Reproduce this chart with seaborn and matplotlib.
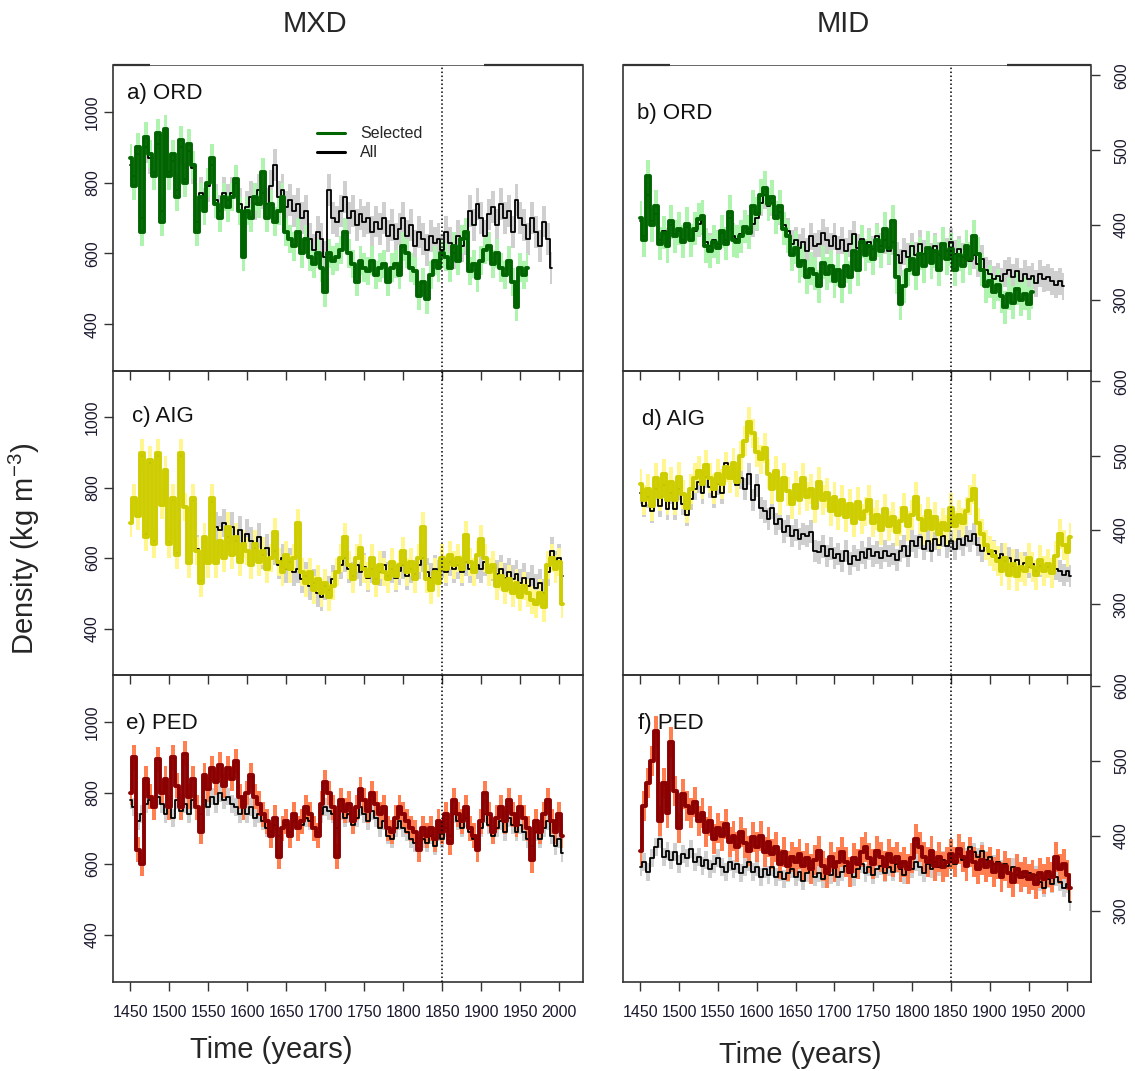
import numpy as np
import matplotlib
matplotlib.use("Agg")
import matplotlib.pyplot as plt
import seaborn as sns
from matplotlib.lines import Line2D

# ---------------- data (5-year resolution) ----------------
START_YEAR = 1450
STEP = 5

# ORD, MXD (kg m-3)
ord_mxd_sel = [
    870, 790, 900, 660, 930, 880, 820, 940, 690, 950,
    820, 880, 760, 920, 800, 910, 850, 660, 760, 720,
    800, 870, 740, 700, 760, 730, 760, 810, 720, 590,
    720, 700, 760, 740, 830, 700, 740, 690, 720, 760,
    660, 640, 620, 660, 600, 640, 590, 570, 600, 560,
    490, 600, 580, 590, 610, 660, 600, 570, 520, 580,
    560, 550, 580, 540, 560, 570, 520, 560, 570, 540,
    620, 600, 560, 550, 480, 520, 470, 540, 580, 560,
    600, 590, 560, 620, 580, 640, 660, 550, 570, 530,
    580, 610, 620, 570, 600, 560, 540, 580, 520, 450,
    560, 540, 560]
ord_mxd_all = [
    850, 820, 880, 700, 900, 870, 830, 910, 720, 920,
    830, 860, 780, 900, 810, 890, 840, 690, 770, 740,
    790, 850, 750, 720, 770, 750, 770, 800, 740, 650,
    730, 760, 740, 780, 770, 740, 790, 850, 760, 780,
    730, 750, 720, 740, 700, 720, 640, 610, 660, 640,
    590, 780, 700, 690, 720, 760, 700, 720, 680, 710,
    690, 700, 660, 690, 670, 700, 650, 680, 640, 670,
    700, 650, 680, 620, 660, 640, 610, 650, 630, 640,
    610, 660, 630, 600, 650, 620, 640, 720, 680, 740,
    700, 650, 710, 730, 680, 740, 700, 720, 660, 750,
    700, 680, 640, 700, 660, 620, 690, 640, 560]

# ORD, MID
ord_mid_sel = [
    410, 380, 465, 400, 425, 375, 390, 372, 405, 385,
    395, 378, 402, 380, 395, 408, 412, 372, 365, 378,
    370, 392, 375, 418, 380, 378, 385, 398, 390, 425,
    415, 440, 450, 428, 438, 410, 425, 395, 385, 360,
    370, 345, 352, 330, 342, 335, 318, 350, 335, 345,
    325, 340, 318, 345, 330, 365, 340, 378, 360, 372,
    355, 380, 365, 395, 370, 405, 330, 295, 318, 340,
    355, 335, 362, 345, 370, 350, 365, 340, 375, 355,
    368, 340, 360, 345, 372, 355, 385, 362, 340, 318,
    325, 310, 320, 305, 290, 308, 296, 315, 300, 308,
    295, 310]
ord_mid_all = [
    405, 385, 440, 405, 415, 380, 392, 378, 400, 388,
    392, 380, 398, 382, 392, 402, 405, 378, 372, 380,
    375, 390, 380, 410, 385, 382, 388, 396, 395, 402,
    410, 430, 440, 425, 430, 412, 418, 400, 392, 375,
    380, 370, 378, 365, 385, 372, 375, 390, 380, 372,
    385, 368, 380, 365, 375, 388, 370, 382, 362, 378,
    368, 385, 372, 380, 365, 378, 360, 350, 365, 358,
    372, 360, 375, 362, 370, 358, 372, 360, 375, 365,
    378, 362, 368, 358, 365, 352, 360, 348, 355, 340,
    335, 328, 332, 325, 335, 340, 330, 338, 325, 335,
    328, 332, 322, 335, 328, 330, 325, 320, 325, 318]

# AIG, MXD
aig_mxd_sel = [
    700, 770, 720, 900, 660, 880, 640, 900, 750, 850,
    640, 770, 610, 900, 745, 585, 770, 620, 530, 660,
    585, 770, 585, 650, 600, 690, 610, 660, 590, 640,
    620, 580, 640, 590, 620, 570, 600, 675, 590, 560,
    610, 570, 600, 700, 560, 530, 560, 510, 540, 500,
    530, 490, 520, 560, 600, 660, 580, 540, 600, 630,
    570, 550, 600, 530, 580, 560, 540, 590, 550, 580,
    620, 560, 590, 540, 600, 690, 540, 510, 560, 530,
    600, 570, 610, 580, 600, 570, 665, 590, 560, 610,
    655, 600, 560, 580, 520, 550, 510, 540, 500, 530,
    490, 520, 500, 480, 470, 500, 460, 580, 600, 570,
    590, 470]
aig_mxd_all = [
    700, 770, 720, 890, 670, 870, 650, 890, 750, 845,
    645, 765, 615, 890, 745, 590, 765, 625, 535, 655,
    590, 760, 690, 680, 700, 660, 690, 650, 680, 640,
    670, 650, 630, 660, 610, 630, 600, 620, 580, 600,
    570, 590, 560, 570, 540, 550, 520, 530, 500, 490,
    520, 510, 540, 560, 580, 600, 570, 550, 580, 560,
    575, 545, 570, 540, 560, 580, 550, 570, 545, 565,
    580, 550, 570, 555, 580, 600, 560, 545, 570, 555,
    585, 560, 590, 570, 580, 560, 590, 570, 560, 580,
    570, 590, 560, 575, 555, 570, 545, 560, 540, 555,
    530, 545, 520, 540, 515, 530, 500, 560, 620, 580,
    600, 550]

# AIG, MID
aig_mid_sel = [
    462, 440, 455, 432, 470, 445, 475, 440, 465, 440,
    472, 448, 430, 455, 470, 480, 462, 488, 470, 455,
    475, 462, 485, 470, 490, 465, 500, 520, 545, 530,
    505, 495, 510, 475, 455, 480, 440, 470, 452, 435,
    460, 440, 470, 445, 455, 430, 465, 440, 450, 425,
    445, 420, 440, 418, 435, 410, 438, 415, 425, 440,
    410, 420, 400, 428, 405, 418, 398, 412, 430, 405,
    420, 445, 415, 400, 425, 402, 418, 395, 410, 400,
    430, 405, 420, 410, 425, 440, 455, 410, 395, 380,
    372, 365, 358, 345, 362, 340, 355, 338, 350, 345,
    362, 350, 340, 360, 345, 355, 342, 365, 395, 380,
    370, 390]
aig_mid_all = [
    450, 432, 445, 425, 455, 432, 460, 428, 450, 428,
    455, 435, 420, 442, 455, 465, 450, 472, 458, 445,
    462, 450, 490, 470, 482, 460, 470, 455, 475, 440,
    460, 430, 425, 415, 430, 408, 415, 398, 405, 392,
    400, 388, 395, 392, 398, 372, 370, 378, 365, 375,
    362, 368, 358, 372, 355, 365, 360, 370, 362, 375,
    365, 370, 362, 372, 365, 368, 360, 372, 378, 365,
    385, 378, 390, 375, 385, 372, 388, 380, 392, 378,
    385, 375, 388, 380, 392, 385, 395, 380, 372, 378,
    368, 372, 362, 368, 358, 362, 352, 360, 348, 356,
    350, 355, 345, 352, 345, 350, 342, 348, 345, 340,
    345, 338]

# PED, MXD
ped_mxd_sel = [
    800, 900, 640, 600, 840, 790, 760, 895, 800, 840,
    760, 900, 820, 760, 910, 790, 840, 760, 690, 850,
    810, 870, 830, 880, 820, 870, 840, 890, 790, 760,
    800, 850, 790, 770, 740, 720, 680, 730, 620, 700,
    720, 680, 740, 700, 720, 760, 740, 700, 680, 770,
    830, 800, 760, 620, 780, 750, 770, 720, 760, 810,
    780, 750, 800, 770, 740, 760, 700, 690, 730, 760,
    740, 720, 700, 690, 640, 700, 680, 700, 670, 720,
    690, 740, 660, 780, 740, 720, 760, 700, 680, 640,
    720, 800, 740, 690, 730, 760, 720, 780, 740, 710,
    760, 730, 700, 610, 720, 690, 740, 780, 720, 690,
    740, 680]
ped_mxd_all = [
    780, 760, 720, 740, 770, 780, 760, 790, 770, 740,
    760, 730, 780, 750, 770, 740, 780, 760, 740, 780,
    760, 790, 770, 800, 780, 790, 770, 760, 740, 760,
    740, 760, 730, 740, 720, 700, 690, 710, 680, 700,
    710, 690, 720, 700, 710, 730, 720, 700, 690, 740,
    760, 750, 740, 700, 750, 730, 740, 710, 730, 760,
    740, 720, 750, 730, 700, 720, 680, 670, 700, 720,
    700, 690, 670, 660, 640, 670, 660, 680, 650, 690,
    670, 700, 680, 740, 720, 700, 730, 690, 670, 660,
    700, 740, 710, 680, 700, 720, 690, 730, 710, 690,
    710, 690, 670, 650, 690, 670, 700, 720, 680, 650,
    670, 630]

# PED, MID
ped_mid_sel = [
    380, 440, 470, 500, 540, 420, 470, 430, 525, 460,
    410, 455, 440, 430, 445, 420, 430, 405, 420, 395,
    410, 400, 415, 392, 400, 385, 405, 390, 380, 398,
    385, 400, 378, 392, 375, 385, 362, 378, 360, 372,
    365, 375, 360, 370, 355, 368, 380, 360, 350, 372,
    358, 365, 378, 365, 352, 370, 362, 378, 385, 370,
    362, 380, 372, 360, 375, 365, 372, 358, 365, 355,
    370, 395, 385, 372, 365, 380, 360, 372, 358, 365,
    375, 365, 382, 372, 360, 378, 365, 355, 368, 358,
    365, 352, 362, 345, 360, 350, 338, 355, 345, 352,
    342, 348, 335, 350, 342, 352, 345, 372, 355, 362,
    348, 330]
ped_mid_all = [
    358, 365, 352, 370, 385, 395, 372, 380, 368, 378,
    362, 375, 370, 382, 365, 372, 360, 368, 355, 362,
    370, 358, 352, 365, 355, 362, 350, 358, 365, 352,
    358, 345, 355, 348, 358, 345, 352, 342, 350, 355,
    345, 352, 340, 350, 355, 345, 350, 342, 356, 348,
    358, 345, 352, 360, 350, 345, 355, 362, 350, 358,
    348, 355, 360, 350, 358, 352, 362, 355, 348, 360,
    355, 365, 358, 350, 362, 355, 365, 358, 368, 360,
    370, 362, 375, 368, 372, 385, 378, 372, 380, 368,
    372, 362, 365, 355, 362, 350, 358, 348, 352, 345,
    350, 342, 348, 338, 330, 342, 335, 345, 338, 330,
    335, 312]

# half-widths of the uncertainty bands (kg m-3)
band_ord_mxd = (40, 45)   # (selected, all)
band_ord_mid = (22, 18)
band_aig_mxd = (40, 40)
band_aig_mid = (20, 15)
band_ped_mxd = (35, 25)
band_ped_mid = (20, 12)

panel_labels = ["a) ORD", "b) ORD", "c) AIG", "d) AIG", "e) PED", "f) PED"]
column_titles = ["MXD", "MID"]
x_ticks = list(range(1450, 2001, 50))
left_y_ticks = [400, 600, 800, 1000]
right_y_ticks = [300, 400, 500, 600]
legend_labels = ["Selected", "All"]
reference_year = 1850

# ---------------- styling ----------------
sns.set_theme(style="ticks")
plt.rcParams["font.family"] = ["Liberation Sans", "DejaVu Sans"]
plt.rcParams["mathtext.fontset"] = "custom"
plt.rcParams["mathtext.rm"] = "Liberation Sans"
plt.rcParams["mathtext.it"] = "Liberation Sans:italic"

GRAY_BAND = "#cfcfcf"
SPINE = "#333333"
colors = {
    "ORD": ("#006400", "#aef3ae"),
    "AIG": ("#cdcd00", "#fff68f"),
    "PED": ("#8b0000", "#ff7f50"),
}

W, H = 1135, 1071
fig = plt.figure(figsize=(W / 100, H / 100), dpi=100)
fig.patch.set_facecolor("white")

col_left = [113, 623]
col_width = [470, 468]
row_top = [65, 371, 675]
row_bot = [371, 675, 982]

series = [
    (ord_mxd_sel, ord_mxd_all, band_ord_mxd, "ORD"),
    (ord_mid_sel, ord_mid_all, band_ord_mid, "ORD"),
    (aig_mxd_sel, aig_mxd_all, band_aig_mxd, "AIG"),
    (aig_mid_sel, aig_mid_all, band_aig_mid, "AIG"),
    (ped_mxd_sel, ped_mxd_all, band_ped_mxd, "PED"),
    (ped_mid_sel, ped_mid_all, band_ped_mid, "PED"),
]
label_pos = [(0.03, 0.908), (0.03, 0.843), (0.04, 0.85),
             (0.04, 0.84), (0.028, 0.843), (0.032, 0.843)]
# thicker pieces of the top frame line (axes fraction), as in the original
top_frame_pieces = [[(0.0, 0.079), (0.79, 1.0)], [(0.0, 0.10), (0.82, 1.0)]]


def years_for(vals):
    return np.arange(START_YEAR, START_YEAR + STEP * len(vals), STEP)


axes = []
for i, (sel, allv, (hw_sel, hw_all), site) in enumerate(series):
    r, c = divmod(i, 2)
    rect = [col_left[c] / W, 1 - row_bot[r] / H,
            col_width[c] / W, (row_bot[r] - row_top[r]) / H]
    ax = fig.add_axes(rect)
    ax.set_facecolor("none")
    axes.append(ax)

    sel = np.asarray(sel, float)
    allv = np.asarray(allv, float)
    ys, ya = years_for(sel), years_for(allv)
    dark, light = colors[site]

    ax.fill_between(ya, allv - hw_all, allv + hw_all, step="mid",
                    color=GRAY_BAND, lw=0, zorder=1)
    ax.fill_between(ys, sel - hw_sel, sel + hw_sel, step="mid",
                    color=light, lw=0, zorder=2)
    sns.lineplot(x=ya, y=allv, ax=ax, color="black", lw=1.3,
                 drawstyle="steps-mid", zorder=3)
    sns.lineplot(x=ys, y=sel, ax=ax, color=dark, lw=2.8,
                 drawstyle="steps-mid", zorder=4)
    ax.axvline(reference_year, color="black", lw=1.1, ls=(0, (1, 1.6)), zorder=5)

    ax.set_xlim(1427.7, 2030.3)
    ax.set_xticks(x_ticks)
    if c == 0:
        ax.set_ylim(268, 1132)
        ax.set_yticks(left_y_ticks)
    else:
        ax.set_ylim(205, 614)
        ax.set_yticks(right_y_ticks)
        ax.yaxis.tick_right()
    ax.set_xlabel("")
    ax.set_ylabel("")

    ax.tick_params(axis="both", direction="out", length=6.5, width=1.0,
                   color=SPINE, labelsize=11.5, labelcolor="#1a1a2e")
    ax.tick_params(axis="x", pad=10)
    ax.tick_params(axis="y", labelrotation=90, pad=3 if c == 0 else 10)
    for lab in ax.get_yticklabels():
        lab.set_va("center")
    if r < 2:
        ax.tick_params(axis="x", labelbottom=False)

    for side, sp in ax.spines.items():
        sp.set_visible(True)
        sp.set_color(SPINE)
        sp.set_linewidth(1.2)
    if r == 0:
        ax.spines["top"].set_linewidth(0.7)
        ax.spines["top"].set_color("#666666")
        for x0, x1 in top_frame_pieces[c]:
            ax.plot([x0, x1], [1, 1], transform=ax.transAxes, color=SPINE,
                    lw=1.6, clip_on=False, solid_capstyle="butt", zorder=6)

    ax.text(label_pos[i][0], label_pos[i][1], panel_labels[i],
            transform=ax.transAxes, ha="left", va="center", fontsize=16,
            color="#111111")

# legend in panel a
handles = [Line2D([], [], color=colors["ORD"][0], lw=2.2),
           Line2D([], [], color="black", lw=2.2)]
axes[0].legend(handles, legend_labels, loc="upper left",
               bbox_to_anchor=(0.435, 0.80), frameon=False, fontsize=11.5,
               handlelength=1.75, handletextpad=0.9, labelspacing=0.25,
               borderpad=0, borderaxespad=0)

# column titles and axis labels
fig.text(315 / W, 1 - 24 / H, column_titles[0], ha="center", va="center",
         fontsize=21)
fig.text(843 / W, 1 - 24 / H, column_titles[1], ha="center", va="center",
         fontsize=21)
fig.text(271 / W, 1 - 1050 / H, "Time (years)", ha="center", va="center",
         fontsize=21)
fig.text(800 / W, 1 - 1055 / H, "Time (years)", ha="center", va="center",
         fontsize=21)
fig.text(24 / W, 1 - 549 / H, "Density (kg m$^{-3}$)", ha="center",
         va="center", rotation=90, fontsize=21)

fig.savefig("out.png", dpi=100, facecolor="white")
